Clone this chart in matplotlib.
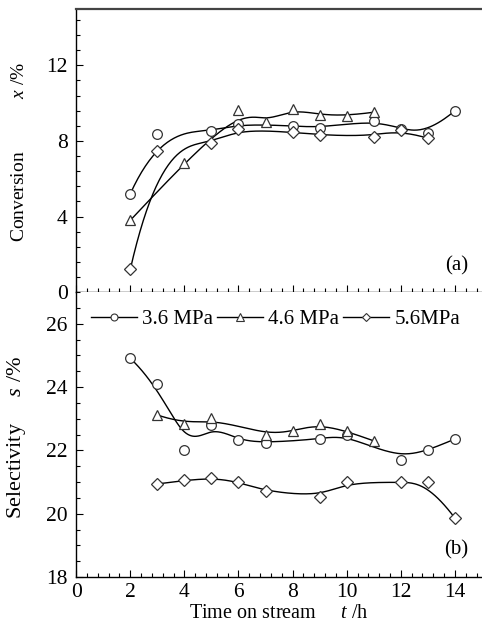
import numpy as np
import matplotlib
matplotlib.use("Agg")
import matplotlib.pyplot as plt
from matplotlib.ticker import MultipleLocator
from matplotlib.lines import Line2D

plt.rcParams['font.family'] = ['Liberation Serif', 'DejaVu Serif']
plt.rcParams['mathtext.fontset'] = 'custom'
plt.rcParams['mathtext.rm'] = 'Liberation Serif'
plt.rcParams['mathtext.it'] = 'Liberation Serif:italic'

# ---- data: (a) conversion ----
conv_36_t = [2, 3, 5, 6, 8, 9, 11, 12, 13, 14]
conv_36_v = [5.2, 8.36, 8.5, 8.9, 8.8, 8.7, 9.08, 8.64, 8.4, 9.6]
conv_46_t = [2, 4, 6, 7, 8, 9, 10, 11]
conv_46_v = [3.8, 6.85, 9.65, 9.0, 9.68, 9.38, 9.33, 9.52]
conv_56_t = [2, 3, 5, 6, 8, 9, 11, 12, 13]
conv_56_v = [1.2, 7.49, 7.88, 8.62, 8.46, 8.32, 8.23, 8.58, 8.14]

# ---- data: (b) selectivity ----
sel_36_t = [2, 3, 4, 5, 6, 7, 9, 10, 12, 13, 14]
sel_36_v = [24.91, 24.1, 22.0, 22.79, 22.32, 22.24, 22.36, 22.5, 21.69, 22.0, 22.36]
sel_46_t = [3, 4, 5, 7, 8, 9, 10, 11]
sel_46_v = [23.12, 22.83, 23.03, 22.5, 22.61, 22.84, 22.61, 22.3]
sel_56_t = [3, 4, 5, 6, 7, 9, 10, 12, 13, 14]
sel_56_v = [20.94, 21.05, 21.14, 21.0, 20.71, 20.54, 20.99, 20.99, 20.99, 19.86]

labels = ['3.6 MPa', '4.6 MPa', '5.6MPa']
markers = ['o', '^', 'D']
msizes = [7, 7.5, 6]
leg_msizes = [5, 5.5, 4.5]


def bspline(xs, ys, n=300, k=3):
    P = np.column_stack([xs, ys]).astype(float)
    m = len(P)
    k = min(k, m - 1)
    inner = np.linspace(0, 1, m - k + 1)
    knots = np.concatenate([[0] * k, inner, [1] * k])
    u = np.linspace(0, 1, n)
    u[-1] = 1 - 1e-10

    def N(i, p, u):
        if p == 0:
            return ((knots[i] <= u) & (u < knots[i + 1])).astype(float)
        a = np.zeros_like(u)
        d1 = knots[i + p] - knots[i]
        d2 = knots[i + p + 1] - knots[i + 1]
        if d1 > 0:
            a += (u - knots[i]) / d1 * N(i, p - 1, u)
        if d2 > 0:
            a += (knots[i + p + 1] - u) / d2 * N(i + 1, p - 1, u)
        return a

    C = np.zeros((n, 2))
    for i in range(m):
        C += N(i, k, u)[:, None] * P[i]
    return C[:, 0], C[:, 1]


fig = plt.figure(figsize=(4.82, 6.31), dpi=100)
axa = fig.add_axes([0.158, 0.537, 0.842, 0.4493])
axb = fig.add_axes([0.158, 0.0856, 0.842, 0.4514])

mec = '#333333'
for ax, series in [(axa, [(conv_36_t, conv_36_v), (conv_46_t, conv_46_v), (conv_56_t, conv_56_v)]),
                   (axb, [(sel_36_t, sel_36_v), (sel_46_t, sel_46_v), (sel_56_t, sel_56_v)])]:
    for (t, v), mk, ms in zip(series, markers, msizes):
        cx, cy = bspline(t, v)
        ax.plot(cx, cy, color='k', lw=1.0, zorder=2)
        ax.plot(t, v, ls='none', marker=mk, ms=ms, mfc='white', mec=mec, mew=0.9, zorder=3)

for ax in (axa, axb):
    ax.set_xlim(0, 15)
    ax.xaxis.set_major_locator(MultipleLocator(2))
    ax.xaxis.set_minor_locator(MultipleLocator(0.4))
    ax.tick_params(which='both', direction='in', top=False, right=False, labelsize=15.5)
    ax.tick_params(axis='y', pad=6)
    ax.tick_params(axis='x', pad=4)
    ax.tick_params(which='major', length=5, width=0.8)
    ax.tick_params(which='minor', length=3, width=0.8)
    ax.spines['right'].set_visible(False)
    for s in ax.spines.values():
        s.set_linewidth(1.0)

axa.set_ylim(0, 15)
axa.yaxis.set_major_locator(MultipleLocator(4))
axa.yaxis.set_minor_locator(MultipleLocator(0.8))
axa.tick_params(labelbottom=False)
axa.spines['top'].set_linewidth(1.6)
axa.spines['top'].set_color('#444444')

axb.set_ylim(18, 27)
axb.yaxis.set_major_locator(MultipleLocator(2))
axb.yaxis.set_minor_locator(MultipleLocator(0.5))
axb.spines['top'].set_visible(False)

axa.set_ylabel('Conversion' + ' ' * 11 + r'$\it{x}$ /%', fontsize=14)
axb.set_ylabel('Selectivity' + ' ' * 5 + r'$\it{s}$ /%', fontsize=16)
axa.yaxis.set_label_coords(-0.118, 0.493)
axb.yaxis.set_label_coords(-0.118, 0.4895)
axb.set_xlabel(r'Time on stream     $\it{t}$ /h', fontsize=14.5, labelpad=2)

axa.text(0.965, 0.06, '(a)', transform=axa.transAxes, ha='right', va='bottom', fontsize=15)
axb.text(0.965, 0.06, '(b)', transform=axb.transAxes, ha='right', va='bottom', fontsize=15)

handles = [Line2D([], [], color='k', lw=1.0, marker=mk, ms=ms, mfc='white', mec=mec, mew=0.8)
           for mk, ms in zip(markers, leg_msizes)]
axb.legend(handles, labels, loc='upper left', bbox_to_anchor=(0.0, 0.99), ncol=3, frameon=False,
           fontsize=15, handlelength=2.2, handletextpad=0.25, columnspacing=0.2, borderaxespad=0.3,
           numpoints=1)

fig.savefig('out.png', dpi=100)
